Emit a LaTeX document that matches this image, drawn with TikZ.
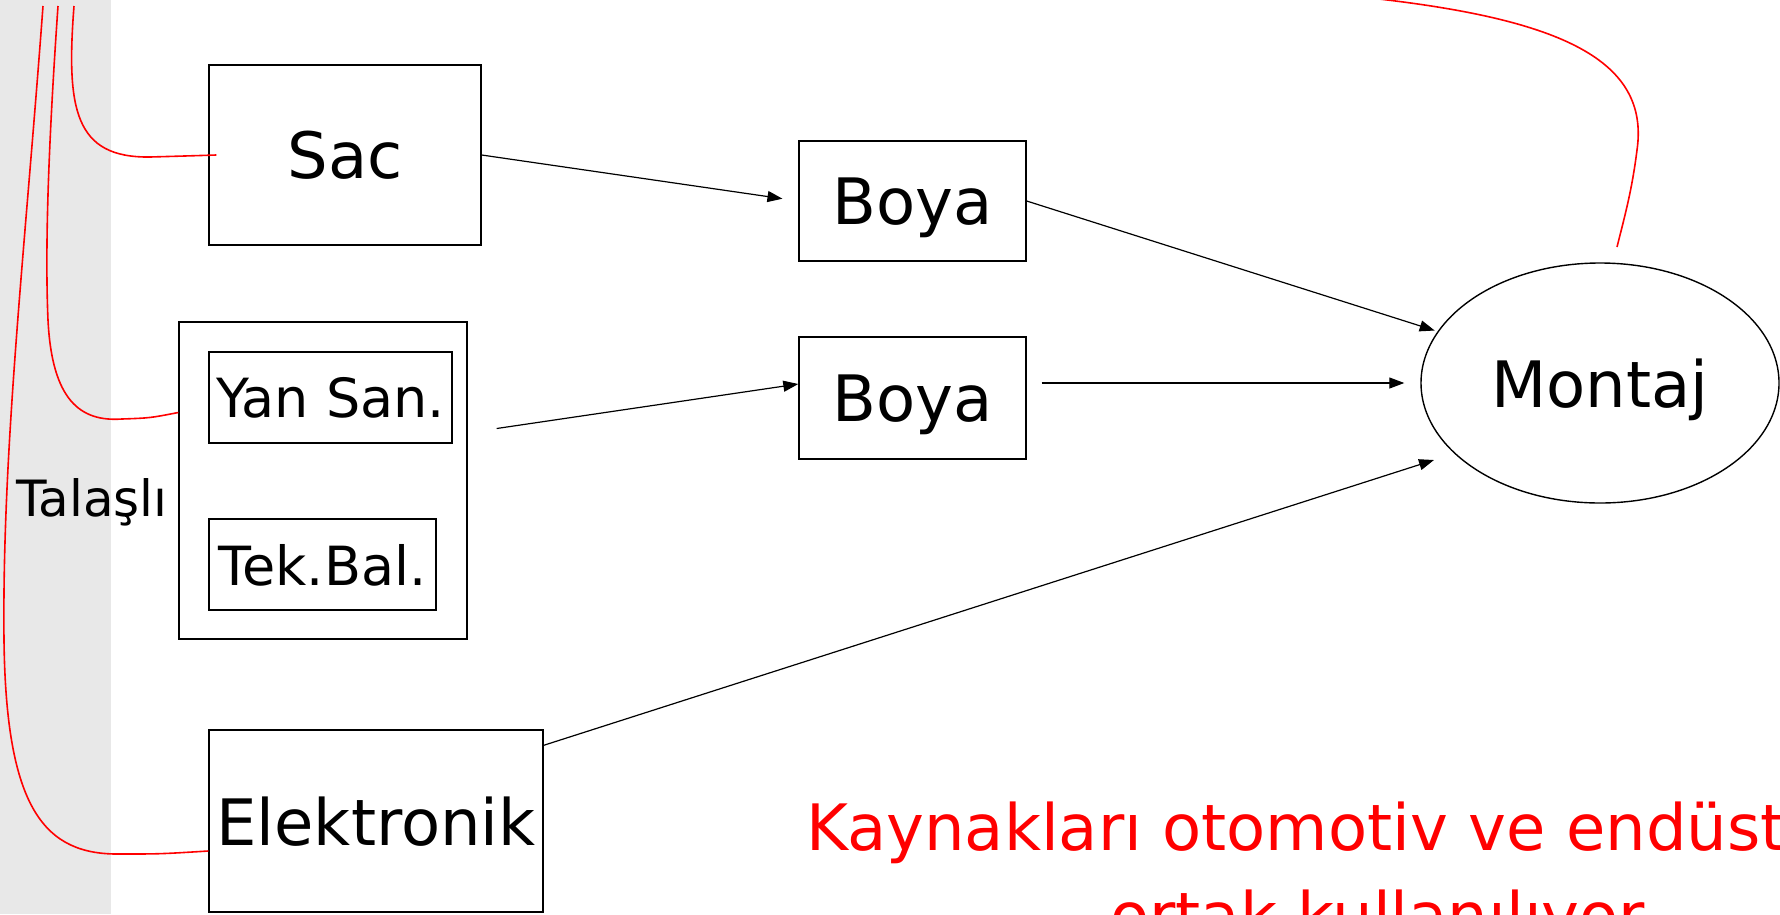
\documentclass[tikz,border=0pt]{standalone}
\usepackage{fontspec}
\setmainfont{DejaVu Sans}
\usetikzlibrary{arrows.meta,shapes.geometric,calc}
\definecolor{bandgray}{RGB}{232,232,232}
\tikzset{
  box/.style={draw, rectangle, line width=1.4pt, inner sep=0pt, text depth=0pt, font=\fontsize{64}{76}\selectfont},
  smallbox/.style={box, font=\fontsize{54}{64}\selectfont},
  arr/.style={line width=1.2pt, -{Triangle[length=15pt,width=11pt]}},
  redc/.style={draw=red, line width=1.6pt},
  lbl/.style={anchor=base west, inner sep=0pt, text=red, font=\fontsize{64}{76}\selectfont},
}
\begin{document}
\begin{tikzpicture}[x=1pt,y=-1pt]
\useasboundingbox (0,0) rectangle (1780,914);
\clip (0,0) rectangle (1780,914);
\fill[bandgray] (0,0) rectangle (111,914);

\node[box, minimum width=272pt, minimum height=180pt] (sac) at (345,155) {Sac};
\node[box, minimum width=227pt, minimum height=120pt] (boya1) at (912.5,201) {Boya};
\node[box, minimum width=227pt, minimum height=122pt] (boya2) at (912.5,398) {Boya};
\node[draw, line width=1.4pt, minimum width=288pt, minimum height=317pt, inner sep=0pt] (outer) at (323,480.5) {};
\node[smallbox, minimum width=243pt, minimum height=91pt] (yan) at (330.5,397.5) {Yan San.};
\node[smallbox, minimum width=227pt, minimum height=91pt] (tek) at (322.5,564.5) {Tek.Bal.};
\node[box, minimum width=334pt, minimum height=182pt] (elek) at (376,821) {Elektronik};
\node[ellipse, draw, line width=1.4pt, minimum width=358pt, minimum height=240pt, inner sep=0pt, text depth=0pt, font=\fontsize{64}{76}\selectfont] (montaj) at (1600,383) {Montaj};
\node[font=\fontsize{50}{60}\selectfont, inner sep=0pt] (tal) at (92,502) {Talaşlı};

\node[lbl] (kay) at (806,850) {Kaynakları otomotiv ve endüst};
\node[lbl] (ort) at (1110,938) {ortak kullanılıyor};

% arrows
\draw[arr, shorten >=16pt] (sac.east) -- (boya1.west);
\draw[arr, shorten >=3pt] (boya1.east) -- (montaj);
\draw[arr] ($(outer.east)+(29,-52)$) -- ($(boya2.west)+(0,-14)$);
\draw[arr] ([xshift=15pt]boya2.east |- montaj.west) -- ([xshift=-16pt]montaj.west);
\draw[arr] ($(elek.north east)+(0,16)$) -- ($(montaj.center)+(-166,77)$);

% red curves
\coordinate (c1) at (74,6);
\coordinate (c2) at (58,6);
\coordinate (c3) at (43,6);
\coordinate (c4) at (1379,-1);
\path[redc] (c1) .. controls (66,110) and (75,158) .. (150,157) .. controls (185,156) .. ([xshift=8pt]sac.west);
\path[redc] (c2) .. controls (48,150) and (45,250) .. (48,320) .. controls (52,400) and (80,422) .. (122,419) .. controls (150,418) .. ($(outer.west)+(0,-68)$);
\path[redc] (c3) .. controls (25,250) and (2,450) .. (4,640) .. controls (6,810) and (45,855) .. (120,854) .. controls (160,854) .. ($(elek.west)+(0,30)$);
\path[redc] (c4) .. controls (1560,20) and (1650,60) .. (1637,150) .. controls (1632,190) and (1625,215) .. (1617,247);
\end{tikzpicture}
\end{document}
